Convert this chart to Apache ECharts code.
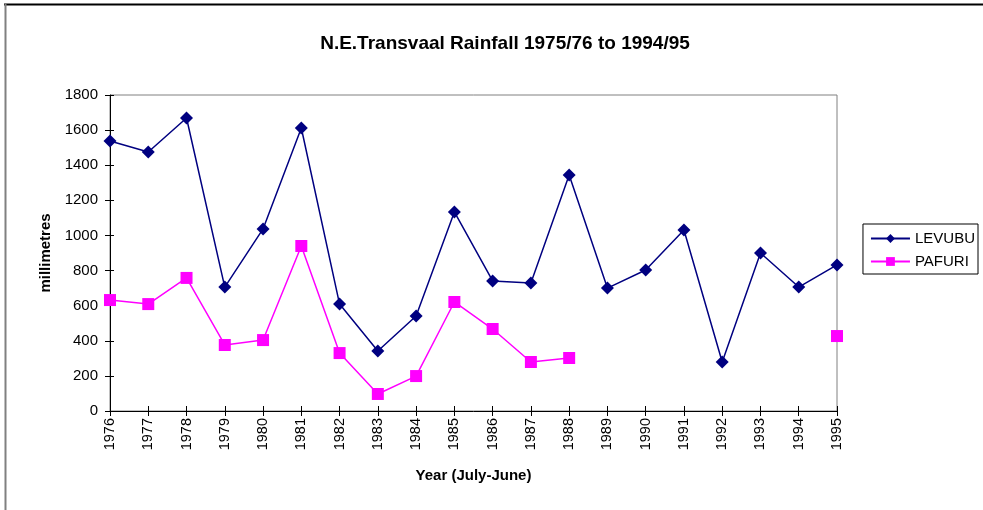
<!DOCTYPE html>
<html>
<head>
<meta charset="utf-8">
<script src="https://cdn.jsdelivr.net/npm/echarts@6/dist/echarts.min.js"></script>
<style>
html,body{margin:0;padding:0;background:#fff;}
#chart{width:983px;height:510px;}
</style>
</head>
<body>
<div id="chart"></div>
<script>
var years = ['1976','1977','1978','1979','1980','1981','1982','1983','1984','1985','1986','1987','1988','1989','1990','1991','1992','1993','1994','1995'];
var levubu = [1538, 1475, 1669, 706, 1037, 1612, 609, 342, 541, 1134, 741, 729, 1344, 700, 803, 1031, 279, 900, 706, 832];
var pafuri = [632, 609, 758, 376, 404, 940, 330, 97, 199, 621, 467, 279, 302, null, null, null, null, null, null, 427];
var yTicks = [0, 200, 400, 600, 800, 1000, 1200, 1400, 1600, 1800];

var font = 'Liberation Sans, Arial, sans-serif';
var chart = echarts.init(document.getElementById('chart'), null, {renderer: 'canvas'});
chart.setOption({
  animation: false,
  backgroundColor: '#fff',
  title: {
    text: 'N.E.Transvaal Rainfall 1975/76 to 1994/95',
    left: 500, top: 29, textAlign: 'center',
    textStyle: {fontFamily: font, fontSize: 19, fontWeight: 'bold', color: '#000'}
  },
  graphic: [
    {type: 'line', shape: {x1: 4, y1: 4.5, x2: 983, y2: 4.5}, style: {stroke: '#000', lineWidth: 2}},
    {type: 'line', shape: {x1: 5.5, y1: 4, x2: 5.5, y2: 510}, style: {stroke: '#808080', lineWidth: 2}}
  ],
  legend: {
    right: 5, top: 224, orient: 'vertical',
    itemWidth: 39, itemHeight: 11, itemGap: 8,
    padding: [7, 3, 5, 7],
    borderColor: '#000', borderWidth: 1,
    textStyle: {fontFamily: font, fontSize: 15, lineHeight: 15, color: '#000'},
    data: ['LEVUBU', 'PAFURI']
  },
  grid: {left: 110, right: 146, top: 95, bottom: 99, show: true, borderColor: '#808080', borderWidth: 1, backgroundColor: 'transparent'},
  xAxis: [{
    type: 'category', data: years, boundaryGap: false, position: 'bottom',
    name: 'Year (July-June)', nameLocation: 'middle', nameGap: 57,
    nameTextStyle: {fontFamily: font, fontSize: 15, fontWeight: 'bold', color: '#000'},
    axisLine: {lineStyle: {color: '#000', width: 1}},
    axisTick: {alignWithLabel: true, length: 5, lineStyle: {color: '#000'}},
    axisLabel: {rotate: 90, fontFamily: font, fontSize: 14.5, color: '#000', margin: 7},
    splitLine: {show: false}
  }, {
    type: 'category', data: years, boundaryGap: false, position: 'bottom',
    axisLine: {show: false},
    axisTick: {inside: true, length: 5, lineStyle: {color: '#000'}},
    axisLabel: {show: false}
  }],
  yAxis: [{
    type: 'value', min: 0, max: 1800, interval: 200,
    name: 'millimetres', nameLocation: 'middle', nameGap: 55,
    nameTextStyle: {fontFamily: font, fontSize: 15, fontWeight: 'bold', color: '#000'},
    axisLine: {show: true, lineStyle: {color: '#000', width: 1}},
    axisTick: {show: true, length: 5, lineStyle: {color: '#000'}},
    axisLabel: {fontFamily: font, fontSize: 15, color: '#000', margin: 12,
      formatter: function (v) { return yTicks.indexOf(v) >= 0 ? String(v) : ''; }},
    splitLine: {show: false}
  }, {
    type: 'value', min: 0, max: 1800, interval: 200, position: 'left',
    axisLine: {show: false},
    axisTick: {show: true, inside: true, length: 4, lineStyle: {color: '#000'}},
    axisLabel: {show: false}, splitLine: {show: false}
  }],
  series: [{
    name: 'LEVUBU', type: 'line', data: levubu,
    symbol: 'diamond', symbolSize: 13, showAllSymbol: true,
    itemStyle: {color: '#000080'},
    lineStyle: {color: '#000080', width: 1.5}
  }, {
    name: 'PAFURI', type: 'line', data: pafuri, connectNulls: false,
    symbol: 'rect', symbolSize: 12, showAllSymbol: true,
    itemStyle: {color: '#FF00FF'},
    lineStyle: {color: '#FF00FF', width: 1.5}
  }]
});
</script>
</body>
</html>
